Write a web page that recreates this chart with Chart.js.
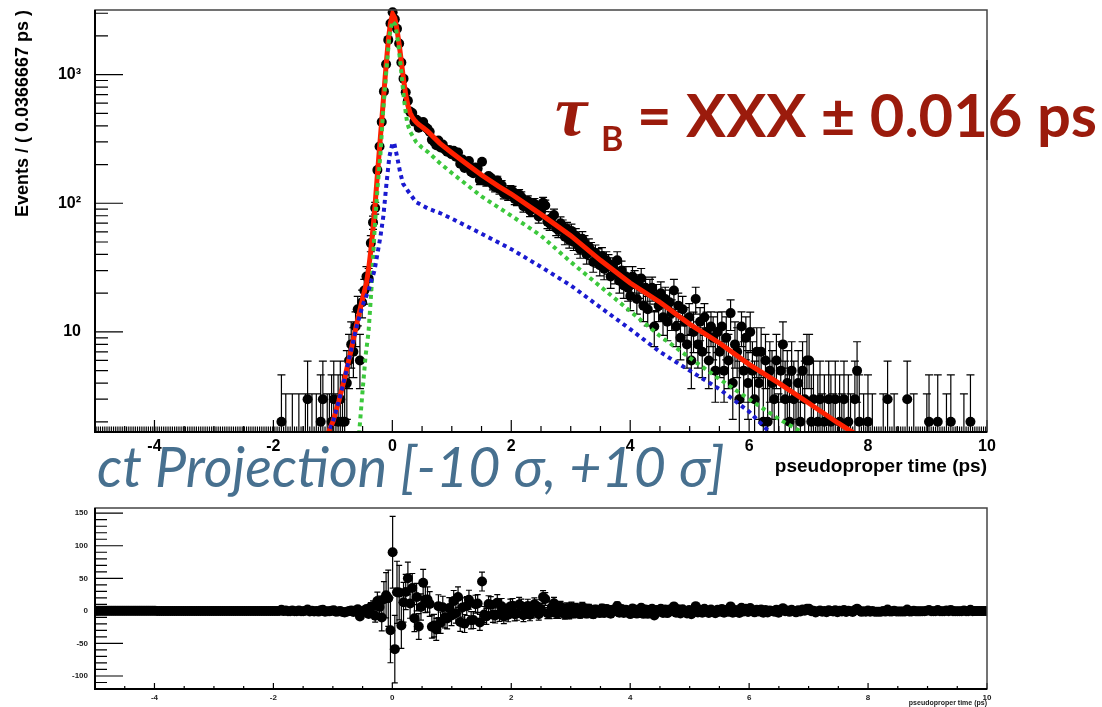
<!DOCTYPE html>
<html>
<head>
<meta charset="utf-8">
<script src="https://cdn.jsdelivr.net/npm/chart.js@4.4.1/dist/chart.umd.min.js"></script>
<style>
  html, body { margin: 0; padding: 0; background: #fff; }
  #wrap { position: relative; width: 1102px; height: 707px; overflow: hidden; }
  #topChart { position: absolute; left: 0; top: 0; }
  #residChart { position: absolute; left: 0; top: 500px; }
</style>
</head>
<body>
<div id="wrap">
  <canvas id="topChart" width="1102" height="500"></canvas>
  <canvas id="residChart" width="1102" height="207"></canvas>
</div>
<script>
// histogram: 409 bins of 0.0366667 ps from -5 to 10 ps
const histMin = -5;
const binWidth = 0.0366667;
const counts = [
  0,0,0,0,0,0,0,0,0,0, 0,0,0,0,0,0,0,0,0,0,          // 0-19
  0,0,0,0,0,0,0,0,0,0, 0,0,0,0,0,0,0,0,0,0,          // 20-39
  0,0,0,0,0,0,0,0,0,0, 0,0,0,0,0,0,0,0,0,0,          // 40-59
  0,0,0,0,0,0,0,0,0,0, 0,0,0,0,0,0,0,0,0,0,          // 60-79
  0,0,0,0,0,2,0,1,0,0, 1,0,0,1,0,0,1,3,0,1,          // 80-99
  0,1,0,2,3,0,1,1,2,3, 1,2,3,2,2,4,6,8,7,11,         // 100-119
  15,6,17,21,27,26,49,71,92,181, 276,428,741,1204,1862,2494,3050,2693,2273,1748,   // 120-139
  1241,931,729,626,516,503,431,445,386,404, 429,391,380,360,312,301,283,307,271,286, // 140-159
  262,252,260,241,256,230,248,203,219,188, 209,213,176,171,190,186,152,210,155,148,  // 160-179
  163,158,139,134,150,129,138,119,122,116, 126,124,108,106,117,112,95,101,104,88,    // 180-199
  90,99,94,79,85,101,96,72,70,77, 81,64,62,70,66,55,63,52,61,50,     // 200-219
  56,47,44,53,49,40,46,43,35,41, 38,33,39,31,36,34,27,32,29,36,      // 220-239
  25,30,23,27,22,19,27,25,18,23, 26,16,22,15,21,22,11,19,16,20,      // 240-259
  13,18,12,17,14,21,11,16,9,15, 12,8,13,6,10,18,8,12,7,13,           // 260-279
  10,6,11,9,5,10,7,11,5,9, 6,14,4,8,7,3,11,5,9,4,                    // 280-299
  10,5,3,7,4,7,2,6,2,5, 4,3,6,1,5,8,3,4,2,5,                         // 300-319
  3,1,4,2,5,3,6,6,2,3, 0,2,3,1,2,0,3,2,1,3,                          // 320-339
  0,2,1,3,0,2,1,0,3,5, 2,0,1,0,2,0,1,0,0,0,                          // 340-359
  0,1,0,3,0,0,1,0,0,0, 0,0,3,0,0,1,0,0,0,0,                          // 360-379
  0,1,2,0,0,0,2,0,0,0, 1,0,2,0,0,0,0,0,1,0,                          // 380-399
  0,2,0,0,0,0,0,0,0                                                  // 400-408
];

// total fit (red)
const totalX = [-5.0, -1.15, -1.10, -1.0, -0.9, -0.8, -0.7, -0.6, -0.508, -0.472,
  -0.435, -0.398, -0.362, -0.325, -0.288, -0.252, -0.215, -0.178, -0.142, -0.105,
  -0.068, -0.032, 0.005, 0.042, 0.078, 0.115, 0.152, 0.188, 0.225, 0.262,
  0.298, 0.335, 0.372, 0.408, 0.445, 0.482, 0.518, 0.6, 0.8, 1.0,
  1.2, 1.5, 1.8, 2.0, 2.5, 3.0, 3.5, 4.0, 4.5, 5.0,
  5.5, 6.0, 6.5, 7.0, 7.5, 7.75, 8.0, 8.5, 9.0, 9.5, 10.0];
const totalY = [0.001, 1.35, 1.55, 2.0, 2.9, 4.4, 7.0, 11.5, 17.5, 20.5,
  24, 31, 43, 64, 100, 165, 270, 440, 720, 1180,
  1850, 2520, 2960, 2750, 2250, 1720, 1260, 920, 700, 575,
  505, 468, 442, 424, 410, 398, 386, 360, 292, 247,
  210, 166, 134, 118, 82, 56, 36, 24, 17, 11.5,
  8.2, 5.6, 4.0, 2.8, 1.95, 1.65, 1.37, 0.96, 0.67, 0.47, 0.33];

// signal component (green)
const signalX = [-0.56, -0.50, -0.45, -0.40, -0.35, -0.30, -0.25, -0.20, -0.15, -0.10,
  -0.05, 0.00, 0.05, 0.10, 0.15, 0.20, 0.25, 0.30, 0.40, 0.50,
  0.60, 0.80, 1.00, 1.50, 2.00, 2.50, 3.00, 3.50, 4.00, 4.50,
  5.00, 5.50, 6.00, 6.50, 6.95];
const signalY = [1.6, 3.5, 6.5, 10, 22, 60, 130, 240, 560, 1080,
  2000, 2600, 2450, 1750, 1050, 620, 420, 360, 300, 270,
  250, 205, 172, 113, 80, 56, 35, 22.5, 14.5, 9.3,
  6.3, 4.3, 3.0, 2.1, 1.6];

// background component (blue)
const bkgX = [-1.10, -1.0, -0.9, -0.8, -0.7, -0.6, -0.5, -0.4, -0.3, -0.2,
  -0.15, -0.10, -0.05, 0.00, 0.03, 0.08, 0.13, 0.18, 0.26, 0.40,
  0.60, 0.80, 1.00, 1.50, 2.00, 2.50, 3.00, 3.50, 4.00, 4.50,
  5.00, 5.50, 6.00, 6.38];
const bkgY = [1.55, 2.0, 2.9, 4.4, 7.0, 11, 16, 21, 30, 55,
  80, 140, 230, 290, 296, 230, 175, 142, 125, 102,
  91, 84, 76, 58, 44, 32, 23, 15.5, 10.5, 7.0,
  5.0, 3.6, 2.4, 1.6];

// poisson (68%) intervals for small counts
const poisLo = [0, 0.173, 0.708, 1.367, 2.086, 2.840, 3.620, 4.419, 5.232, 6.057, 6.891];
const poisHi = [1.841, 3.300, 4.638, 5.918, 7.163, 8.382, 9.584, 10.77, 11.95, 13.11, 14.27];

const xTickValues = [-4, -2, 0, 2, 4, 6, 8, 10];
const yTickValues = [10, 100, 1000];
const yTickLabels = ["10", "10²", "10³"];
const residTickValues = [-100, -50, 0, 50, 100, 150];

Chart.defaults.font.family = '"Liberation Sans", Arial, sans-serif';
Chart.defaults.color = '#000';

function curveAt(xs, ys, x) {
  if (x <= xs[0]) return ys[0];
  for (let k = 1; k < xs.length; k++) {
    if (x <= xs[k]) {
      const t = (x - xs[k - 1]) / (xs[k] - xs[k - 1]);
      return Math.exp(Math.log(ys[k - 1]) * (1 - t) + Math.log(ys[k]) * t);
    }
  }
  return ys[ys.length - 1];
}

function poissonBand(n) {
  if (n < poisLo.length) return [poisLo[n], poisHi[n]];
  const s = Math.sqrt(n);
  return [n - s, n + s];
}

const binCenters = counts.map((_, i) => histMin + (i + 0.5) * binWidth);
const residuals = counts.map((n, i) => n - curveAt(totalX, totalY, binCenters[i]));

const dataPoints = [];
const topBars = [];
const residPoints = [];
const residBars = [];
counts.forEach((n, i) => {
  const [lo, hi] = poissonBand(n);
  if (n > 0) dataPoints.push({ x: binCenters[i], y: n });
  topBars.push({ x: binCenters[i], lo: lo, hi: hi });
  const r = residuals[i];
  residPoints.push({ x: binCenters[i], y: r });
  residBars.push({ x: binCenters[i], lo: r - (n - lo), hi: r + (hi - n) });
});

const toPoints = (xs, ys) => xs.map((x, i) => ({ x: x, y: ys[i] }));

// keep the plot frame exactly where the layout padding puts it
function noScalePadding(s) {
  s.paddingTop = 0; s.paddingBottom = 0; s.paddingLeft = 0; s.paddingRight = 0;
}

function makeErrorBars(bars, capHalf, minCapLen) {
  return {
    id: 'errorBars',
    beforeDatasetsDraw(chart) {
      const { ctx, chartArea: a, scales } = chart;
      ctx.save();
      ctx.beginPath();
      ctx.rect(a.left, a.top, a.right - a.left, a.bottom - a.top);
      ctx.clip();
      ctx.strokeStyle = '#000';
      ctx.lineWidth = 1.2;
      ctx.beginPath();
      bars.forEach(b => {
        const px = scales.x.getPixelForValue(b.x);
        const pTop = scales.y.getPixelForValue(b.hi);
        const pBot = scales.y.getPixelForValue(b.lo);
        ctx.moveTo(px, pBot);
        ctx.lineTo(px, pTop);
        if (pBot - pTop > minCapLen) {
          ctx.moveTo(px - capHalf, pTop);
          ctx.lineTo(px + capHalf, pTop);
          ctx.moveTo(px - capHalf, pBot);
          ctx.lineTo(px + capHalf, pBot);
        }
      });
      ctx.stroke();
      ctx.restore();
    }
  };
}

// frame with inward ROOT-style ticks
function makeFrame(spec) {
  return {
    id: 'frame',
    afterDatasetsDraw(chart) {
      const { ctx, chartArea: a, scales } = chart;
      const xs = scales.x, ys = scales.y;
      ctx.save();
      ctx.strokeStyle = '#000';
      ctx.lineWidth = 1.2;
      ctx.beginPath();
      for (let k = -10; k <= 20; k++) {
        const v = k * 0.5;
        const len = xTickValues.includes(v) ? spec.xMajorLen : spec.xMinorLen;
        const p = xs.getPixelForValue(v);
        ctx.moveTo(p, a.bottom);
        ctx.lineTo(p, a.bottom - len);
      }
      if (spec.log) {
        for (let e = 0; e <= 3; e++) {
          for (let m = 1; m <= 9; m++) {
            const v = m * Math.pow(10, e);
            if (v < ys.min || v > ys.max) continue;
            const len = m === 1 ? spec.yMajorLen : spec.yMinorLen;
            const p = ys.getPixelForValue(v);
            ctx.moveTo(a.left, p);
            ctx.lineTo(a.left + len, p);
          }
        }
      } else {
        for (let k = -12; k <= 15; k++) {
          const v = k * 10;
          const len = residTickValues.includes(v) ? spec.yMajorLen : spec.yMinorLen;
          const p = ys.getPixelForValue(v);
          ctx.moveTo(a.left, p);
          ctx.lineTo(a.left + len, p);
        }
      }
      ctx.stroke();
      ctx.strokeStyle = '#444';
      ctx.lineWidth = 1.5;
      ctx.strokeRect(a.left, a.top, a.right - a.left, a.bottom - a.top);
      ctx.strokeStyle = '#000';
      ctx.lineWidth = 2;
      ctx.beginPath();
      ctx.moveTo(a.left, a.top);
      ctx.lineTo(a.left, a.bottom);
      ctx.lineTo(a.right, a.bottom);
      ctx.stroke();
      ctx.restore();
    }
  };
}

const annotations = {
  id: 'annotations',
  afterDraw(chart) {
    const { ctx, chartArea: a } = chart;
    ctx.save();
    ctx.textBaseline = 'alphabetic';
    ctx.fillStyle = '#9b1b0c';
    ctx.font = 'italic bold 72px "Liberation Serif"';
    ctx.fillText('τ', 555, 135);
    ctx.font = 'bold 34px Lato';
    ctx.fillText('B', 601, 151);
    const main = '= XXX ± 0.016 ps';
    ctx.font = 'bold 60px Lato';
    const w = ctx.measureText(main).width;
    ctx.font = 'bold ' + (60 * 460 / w).toFixed(1) + 'px Lato';
    ctx.fillText(main, 637, 137);

    ctx.fillStyle = '#47708f';
    const proj = 'ct Projection [-10 σ, +10 σ]';
    ctx.font = 'italic 46px Lato';
    const w2 = ctx.measureText(proj).width;
    ctx.font = 'italic ' + (46 * 628 / w2).toFixed(1) + 'px Lato';
    ctx.fillText(proj, 97, 487);

    // frame edge stays visible over the label
    ctx.strokeStyle = '#444';
    ctx.lineWidth = 1.5;
    ctx.beginPath();
    ctx.moveTo(a.right, 60);
    ctx.lineTo(a.right, 160);
    ctx.stroke();
    ctx.restore();
  }
};

const tickFont = { size: 16, weight: 'bold' };

new Chart(document.getElementById('topChart'), {
  type: 'scatter',
  data: {
    datasets: [
      { label: 'background', data: toPoints(bkgX, bkgY), showLine: true, borderColor: '#1a1ad0',
        borderWidth: 4, borderDash: [4, 4], pointRadius: 0, clip: 0, order: 0 },
      { label: 'signal', data: toPoints(signalX, signalY), showLine: true, borderColor: '#3cc83c',
        borderWidth: 4, borderDash: [4, 4], pointRadius: 0, clip: 0, order: 1 },
      { label: 'total', data: toPoints(totalX, totalY), showLine: true, borderColor: '#ff2000',
        borderWidth: 5, pointRadius: 0, clip: 0, order: 2 },
      { label: 'data', data: dataPoints, pointRadius: 5, pointBackgroundColor: '#000',
        pointBorderColor: '#000', pointBorderWidth: 0, clip: { left: 5, top: 5, right: 5, bottom: 0 }, order: 3 }
    ]
  },
  options: {
    responsive: false,
    animation: false,
    events: [],
    layout: { padding: { top: 10, right: 115, left: 0, bottom: 0 } },
    plugins: { legend: { display: false }, tooltip: { enabled: false } },
    scales: {
      x: {
        type: 'linear', min: -5, max: 10,
        afterFit: s => { s.height = 68; noScalePadding(s); },
        afterBuildTicks: s => { s.ticks = xTickValues.map(v => ({ value: v })); },
        grid: { display: false, drawTicks: false },
        border: { display: false },
        ticks: { font: tickFont, color: '#000', padding: 5, maxRotation: 0, autoSkip: false, callback: v => String(v) },
        title: { display: true, text: 'pseudoproper time (ps)', align: 'end', color: '#000',
          font: { size: 19, weight: 'bold' }, padding: { top: 0, bottom: 22 } }
      },
      y: {
        type: 'logarithmic', min: 1.667, max: 3180,
        afterFit: s => { s.width = 95; noScalePadding(s); },
        afterBuildTicks: s => { s.ticks = yTickValues.map(v => ({ value: v })); },
        grid: { display: false, drawTicks: false },
        border: { display: false },
        ticks: { font: tickFont, color: '#000', padding: 14, autoSkip: false,
          callback: v => yTickLabels[yTickValues.indexOf(v)] },
        title: { display: true, text: 'Events / ( 0.0366667 ps )', align: 'end', color: '#000',
          font: { size: 18, weight: 'bold' }, padding: { top: 12, bottom: 0 } }
      }
    }
  },
  plugins: [makeErrorBars(topBars, 4, 9), makeFrame({ log: true, xMajorLen: 12, xMinorLen: 6, yMajorLen: 28, yMinorLen: 13 }), annotations]
});

const smallFont = { size: 8, weight: 'bold' };

new Chart(document.getElementById('residChart'), {
  type: 'scatter',
  data: {
    datasets: [
      { label: 'residual', data: residPoints, pointRadius: 5, pointBackgroundColor: '#000',
        pointBorderColor: '#000', pointBorderWidth: 0, clip: 0 }
    ]
  },
  options: {
    responsive: false,
    animation: false,
    events: [],
    layout: { padding: { top: 8, right: 115, left: 0, bottom: 0 } },
    plugins: { legend: { display: false }, tooltip: { enabled: false } },
    scales: {
      x: {
        type: 'linear', min: -5, max: 10,
        afterFit: s => { s.height = 18; noScalePadding(s); },
        afterBuildTicks: s => { s.ticks = xTickValues.map(v => ({ value: v })); },
        grid: { display: false, drawTicks: false },
        border: { display: false },
        ticks: { font: smallFont, color: '#222', padding: 4, maxRotation: 0, autoSkip: false, callback: v => String(v) },
        title: { display: true, text: 'pseudoproper time (ps)', align: 'end', color: '#222',
          font: { size: 7, weight: 'bold' }, padding: { top: 0, bottom: 0 } }
      },
      y: {
        type: 'linear', min: -120, max: 158,
        afterFit: s => { s.width = 95; noScalePadding(s); },
        afterBuildTicks: s => { s.ticks = residTickValues.map(v => ({ value: v })); },
        grid: { display: false, drawTicks: false },
        border: { display: false },
        ticks: { font: smallFont, color: '#222', padding: 7, autoSkip: false, callback: v => String(v) }
      }
    }
  },
  plugins: [makeErrorBars(residBars, 3, 6), makeFrame({ log: false, xMajorLen: 6, xMinorLen: 3, yMajorLen: 28, yMinorLen: 12 })]
});
</script>
</body>
</html>
